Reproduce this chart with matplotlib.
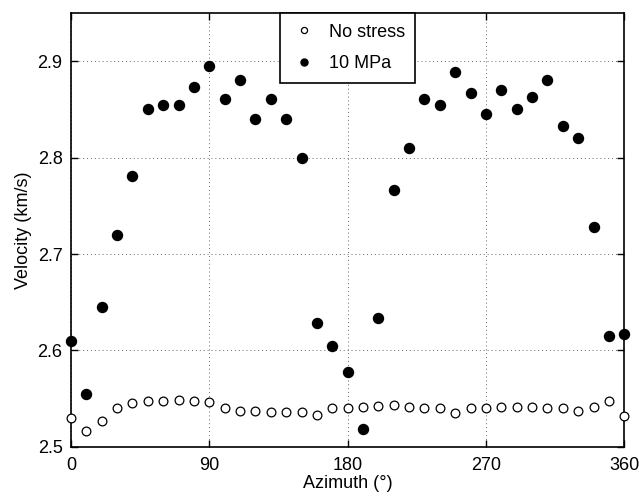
import numpy as np
import matplotlib
matplotlib.use("Agg")
import matplotlib.pyplot as plt

plt.rcParams['font.family'] = ['Liberation Sans', 'DejaVu Sans']

azimuth = np.arange(0, 361, 10)
no_stress = [2.530, 2.517, 2.527, 2.540, 2.545, 2.548, 2.548, 2.549, 2.548, 2.547,
             2.540, 2.537, 2.537, 2.536, 2.536, 2.536, 2.533, 2.540, 2.540, 2.541,
             2.542, 2.543, 2.541, 2.540, 2.540, 2.535, 2.540, 2.540, 2.541, 2.541,
             2.541, 2.540, 2.540, 2.537, 2.541, 2.548, 2.532]
mpa10 = [2.610, 2.555, 2.645, 2.720, 2.781, 2.850, 2.855, 2.855, 2.873, 2.895,
         2.861, 2.880, 2.840, 2.861, 2.840, 2.800, 2.628, 2.605, 2.578, 2.519,
         2.634, 2.766, 2.810, 2.861, 2.855, 2.889, 2.867, 2.845, 2.870, 2.850,
         2.863, 2.880, 2.833, 2.820, 2.728, 2.615, 2.617]

fig = plt.figure(figsize=(6.39, 4.96), dpi=100)
ax = fig.add_axes([0.111, 0.099, 0.866, 0.875])

ax.plot(azimuth, no_stress, 'o', mfc='white', mec='black', mew=0.9, ms=6.3,
        label='No stress', clip_on=False, zorder=3)
ax.plot(azimuth, mpa10, 'o', mfc='black', mec='black', ms=7.2,
        label='10 MPa', clip_on=False, zorder=3)

ax.set_xlim(0, 360)
ax.set_ylim(2.5, 2.95)
ax.set_xticks([0, 90, 180, 270, 360])
ax.set_yticks([2.5, 2.6, 2.7, 2.8, 2.9])
ax.grid(True, linestyle=(0, (1, 3)), color='#666666', linewidth=0.7)
ax.tick_params(direction='in', top=True, right=True, labelsize=13, length=5, width=1)
ax.tick_params(axis='x', pad=7)
ax.tick_params(axis='y', pad=6)
for s in ax.spines.values():
    s.set_linewidth(1.2)
ax.set_xlabel('Azimuth (°)', fontsize=13, labelpad=1)
ax.set_ylabel('Velocity (km/s)', fontsize=13, labelpad=4)

leg = ax.legend(loc='upper center', bbox_to_anchor=(0.5, 1.0), borderaxespad=0,
                fontsize=13, fancybox=False, framealpha=1, edgecolor='black',
                markerscale=0.7, handlelength=1.5, handletextpad=0.6,
                borderpad=0.6, labelspacing=0.8)
leg.get_frame().set_linewidth(1.2)

fig.savefig('out.png', dpi=100)
